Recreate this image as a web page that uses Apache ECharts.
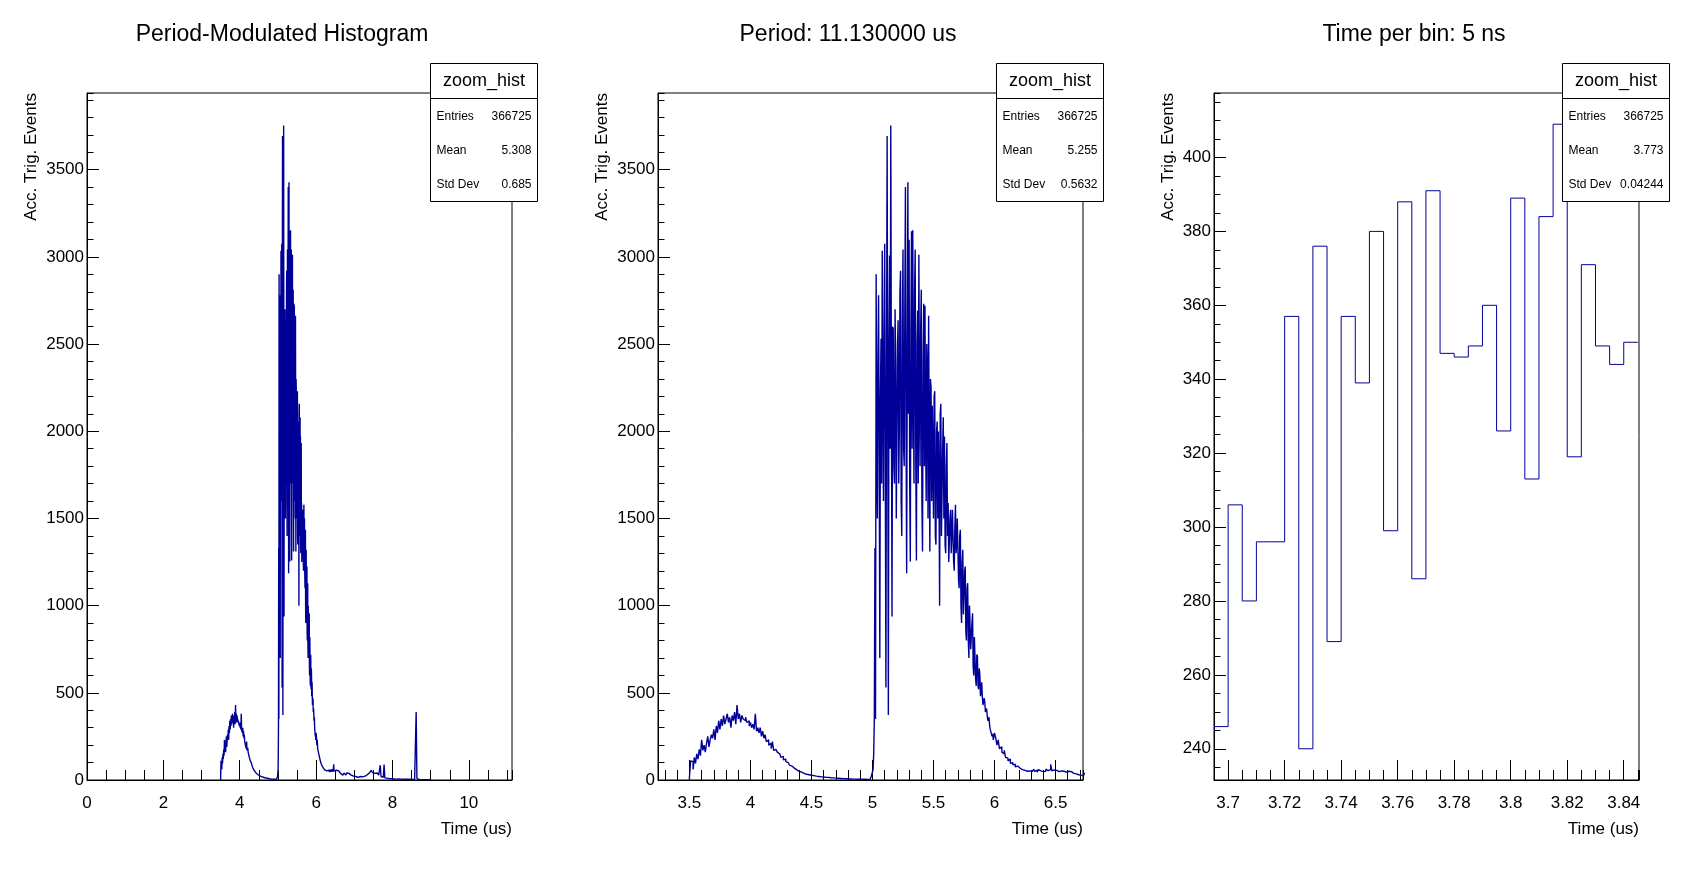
<!DOCTYPE html>
<html>
<head>
<meta charset="utf-8">
<title>Period-Modulated Histogram</title>
<script src="https://cdn.jsdelivr.net/npm/echarts@6/dist/echarts.min.js"></script>
<style>
html, body { margin: 0; padding: 0; background: #fff; }
#chart { width: 1698px; height: 876px; }
</style>
</head>
<body>
<div id="chart"></div>
<script>
// counts per 10 ns bin, 3.50 - 4.99 us
var riseCounts = [
	15, 110, 105, 60, 130, 95, 150, 120, 175, 140,
	230, 170, 200, 160, 210, 250, 190, 230, 260, 240,
	290, 230, 310, 270, 340, 290, 350, 310, 370, 320,
	350, 380, 330, 360, 300, 370, 340, 390, 320, 430,
	350, 380, 330, 370, 350, 340, 360, 330, 340, 310,
	330, 300, 320, 290, 380, 280, 300, 270, 300, 250,
	280, 240, 260, 220, 230, 200, 210, 180, 220, 170,
	175, 185, 160, 150, 140, 130, 135, 115, 120, 105,
	100, 95, 85, 80, 72, 68, 62, 58, 55, 50,
	48, 45, 42, 38, 36, 33, 31, 30, 28, 27,
	26, 25, 23, 22, 21, 20, 19, 18, 17, 17,
	16, 15, 14, 15, 13, 13, 12, 12, 11, 11,
	10, 10, 9, 9, 8, 8, 8, 7, 7, 7,
	6, 6, 6, 5, 5, 5, 5, 4, 4, 4,
	4, 4, 3, 4, 3, 3, 4, 3, 6, 20
];
// counts per 5 ns bin, 5.000 - 5.995 us
var peakCounts = [
	20, 60, 150, 340, 1330, 350, 2900, 2000, 1500, 2400,
	2780, 1900, 700, 2200, 2530, 1700, 3035, 2300, 1600, 2500,
	3075, 1800, 530, 2400, 3693, 2100, 373, 2500, 3008, 1900,
	3754, 2200, 937, 2600, 2587, 1800, 1700, 2700, 2381, 1500,
	1500, 2500, 2636, 1700, 2000, 2800, 2921, 1600, 1400, 2600,
	3042, 1900, 1800, 2700, 3401, 2000, 1186, 2500, 3428, 2100,
	3099, 1700, 1253, 2600, 3147, 1900, 3153, 2300, 1700, 2800,
	3042, 1800, 1259, 2500, 2692, 1700, 3013, 2200, 1800, 2600,
	2812, 1600, 1310, 2400, 2732, 1800, 2720, 2000, 1600, 2500,
	2357, 1500, 2662, 1900, 1310, 2300, 2248, 1600, 2147, 1800,
	1500, 2200, 2230, 1400, 1350, 2000, 2056, 1500, 1999, 1700,
	1000, 2100, 2158, 1400, 1400, 1900, 2080, 1500, 1970, 1350,
	1300, 1800, 1932, 1400, 1588, 1250, 1250, 1500, 1550, 1300,
	1400, 1550, 1550, 1250, 1200, 1450, 1578, 1300, 1350, 1500,
	1511, 1150, 1100, 1400, 1435, 1000, 900, 1250, 1320, 950,
	1050, 1200, 1224, 850, 800, 1100, 1129, 800, 700, 1000,
	1004, 750, 760, 900, 956, 650, 600, 820, 813, 580,
	540, 720, 708, 540, 520, 640, 600, 480, 516, 560,
	478, 430, 420, 470, 450, 390, 392, 410, 370, 340,
	344, 360, 310, 290, 287, 300, 250, 265, 230, 240
];
// counts per 10 ns bin, 6.00 - 6.79 us
var tailCounts = [
	270, 240, 200, 230, 180, 190, 160, 150, 170, 130,
	125, 110, 120, 95, 100, 87, 90, 75, 80, 70,
	67, 72, 60, 65, 55, 62, 50, 58, 52, 60,
	48, 55, 62, 50, 57, 45, 60, 52, 55, 48,
	58, 50, 62, 54, 47, 60, 90, 52, 58, 50,
	55, 60, 48, 56, 52, 62, 50, 57, 45, 53,
	50, 42, 48, 55, 38, 45, 35, 40, 30, 38,
	28, 35, 25, 40, 32, 36, 30, 34, 28, 30
];
// counts per 20 ns bin, 6.80 - 9.00 us (only seen in the full period view)
var lateCounts = [
	40, 35, 38, 30, 32, 28, 25, 27, 22, 20,
	18, 20, 16, 19, 15, 18, 16, 20, 17, 15,
	18, 16, 20, 22, 25, 28, 30, 35, 38, 42,
	45, 40, 55, 48, 42, 50, 38, 45, 35, 40,
	30, 28, 25, 22, 85, 20, 18, 16, 15, 88,
	12, 10, 11, 9, 10, 8, 9, 8, 7, 8,
	7, 6, 7, 6, 5, 6, 5, 6, 5, 5,
	5, 4, 5, 4, 5, 4, 4, 5, 4, 4,
	4, 3, 4, 3, 4, 3, 3, 4, 3, 3,
	10, 390, 8, 3, 3, 2, 3, 2, 3, 2,
	2, 3, 2, 2, 2, 3, 2, 2, 2, 2
];

// 5 ns bins from 3.695 us (right pad)
var zoomStart = 3.695, zoomBin = 0.005;
var zoomCounts = [
	246, 306, 280, 296, 296, 357, 240, 376, 269, 357,
	339, 380, 299, 388, 286, 391, 347, 346, 349, 360,
	326, 389, 313, 384, 409, 319, 371, 349, 344, 350
];

var titles = ['Period-Modulated Histogram', 'Period: 11.130000 us', 'Time per bin: 5 ns'];
var statNames = ['Entries', 'Mean', 'Std Dev'];
var stats1 = ['366725', '5.308', '0.685'];
var stats2 = ['366725', '5.255', '0.5632'];
var stats3 = ['366725', '3.773', '0.04244'];

var FONT = '"Liberation Sans", Arial, Helvetica, sans-serif';
var LINE = '#000099';

function r4(v) { return Math.round(v * 100000) / 100000; }

// histogram outline points, drawn with step:'end'
var fullPts = [[3.5, 0]];
function addBins(start, width, counts) {
	for (var i = 0; i < counts.length; i++) {
		fullPts.push([r4(start + i * width), counts[i]]);
	}
}
addBins(3.50, 0.01, riseCounts);
addBins(5.00, 0.005, peakCounts);
addBins(6.00, 0.01, tailCounts);
addBins(6.80, 0.02, lateCounts);
var lateEnd = r4(6.80 + lateCounts.length * 0.02);
fullPts.push([lateEnd, lateCounts[lateCounts.length - 1]]);
fullPts.push([lateEnd, 0]);

var zoomPts = [];
for (var k = 0; k < zoomCounts.length; k++) {
	zoomPts.push([r4(zoomStart + k * zoomBin), zoomCounts[k]]);
}
zoomPts.push([r4(zoomStart + zoomCounts.length * zoomBin), zoomCounts[zoomCounts.length - 1]]);

function fmt(v) { return String(v); }

function majorX(g, min, max, step, showMin) {
	return {
		type: 'value', gridIndex: g, position: 'bottom', min: min, max: max,
		minInterval: step, maxInterval: step,
		axisLine: { show: true, onZero: false, lineStyle: { color: '#000', width: 1 } },
		axisTick: { show: true, inside: true, length: 20, lineStyle: { color: '#000', width: 1 } },
		axisLabel: { margin: 15, color: '#000', fontSize: 17, fontFamily: FONT,
			showMinLabel: showMin, showMaxLabel: false, formatter: fmt },
		splitLine: { show: false }
	};
}
function minorX(g, min, max, step) {
	return {
		type: 'value', gridIndex: g, position: 'bottom', min: min, max: max,
		minInterval: step, maxInterval: step,
		axisLine: { show: false, onZero: false },
		axisTick: { show: true, inside: true, length: 10, lineStyle: { color: '#000', width: 1 } },
		axisLabel: { show: false },
		splitLine: { show: false }
	};
}
function majorY(g, min, max, step, showMin) {
	return {
		type: 'value', gridIndex: g, position: 'left', min: min, max: max,
		minInterval: step, maxInterval: step,
		axisLine: { show: true, onZero: false, lineStyle: { color: '#000', width: 1 } },
		axisTick: { show: true, inside: true, length: 12, lineStyle: { color: '#000', width: 1 } },
		axisLabel: { margin: 3, color: '#000', fontSize: 17, fontFamily: FONT,
			showMinLabel: showMin, showMaxLabel: false, formatter: fmt },
		splitLine: { show: false }
	};
}
function minorY(g, min, max, step) {
	return {
		type: 'value', gridIndex: g, position: 'left', min: min, max: max,
		minInterval: step, maxInterval: step,
		axisLine: { show: false, onZero: false },
		axisTick: { show: true, inside: true, length: 6.5, lineStyle: { color: '#000', width: 1 } },
		axisLabel: { show: false },
		splitLine: { show: false }
	};
}

var frames = [87, 658, 1214];       // left edge of each frame
var boxes = [430.5, 996.5, 1562.5]; // left edge of each stats box
var yTitleX = [31.5, 602, 1168];

function statBox(x, vals) {
	var els = [];
	els.push({ type: 'rect', z: 100, shape: { x: x, y: 63.5, width: 107, height: 138 },
		style: { fill: '#fff', stroke: '#000', lineWidth: 1 } });
	els.push({ type: 'line', z: 101, shape: { x1: x, y1: 98.5, x2: x + 107, y2: 98.5 },
		style: { stroke: '#000', lineWidth: 1 } });
	els.push({ type: 'text', z: 101, x: x + 53.5, y: 81.5,
		style: { text: 'zoom_hist', fontSize: 18, fontFamily: FONT, fill: '#000', align: 'center', verticalAlign: 'middle' } });
	var rows = [116.5, 150.5, 184.5];
	for (var i = 0; i < 3; i++) {
		els.push({ type: 'text', z: 101, x: x + 6, y: rows[i],
			style: { text: statNames[i], fontSize: 12, fontFamily: FONT, fill: '#000', align: 'left', verticalAlign: 'middle' } });
		els.push({ type: 'text', z: 101, x: x + 101, y: rows[i],
			style: { text: vals[i], fontSize: 12, fontFamily: FONT, fill: '#000', align: 'right', verticalAlign: 'middle' } });
	}
	return els;
}

var graphics = [];
for (var p = 0; p < 3; p++) {
	graphics.push({ type: 'text', z: 101, x: frames[p] + 425, y: 829,
		style: { text: 'Time (us)', fontSize: 17, fontFamily: FONT, fill: '#000', align: 'right', verticalAlign: 'middle' } });
	graphics.push({ type: 'text', z: 101, x: yTitleX[p], y: 93, rotation: Math.PI / 2,
		style: { text: 'Acc. Trig. Events', fontSize: 17, fontFamily: FONT, fill: '#000', align: 'right', verticalAlign: 'middle' } });
}
graphics = graphics.concat(statBox(boxes[0], stats1), statBox(boxes[1], stats2), statBox(boxes[2], stats3));

function titleOpt(text, cx) {
	return { text: text, left: cx, top: 23, textAlign: 'center', padding: 0,
		textStyle: { fontSize: 23, fontWeight: 'normal', color: '#000', fontFamily: FONT } };
}

var chart = echarts.init(document.getElementById('chart'));
var option = {
	backgroundColor: '#fff',
	animation: false,
	title: [titleOpt(titles[0], 282), titleOpt(titles[1], 848), titleOpt(titles[2], 1414)],
	grid: [
		{ left: frames[0], top: 93, width: 425, height: 687, show: true, borderColor: '#000', borderWidth: 1 },
		{ left: frames[1], top: 93, width: 425, height: 687, show: true, borderColor: '#000', borderWidth: 1 },
		{ left: frames[2], top: 93, width: 425, height: 687, show: true, borderColor: '#000', borderWidth: 1 }
	],
	xAxis: [
		majorX(0, 0, 11.13, 2, true), minorX(0, 0, 11.13, 0.5),
		majorX(1, 3.2425, 6.725, 0.5, false), minorX(1, 3.2425, 6.725, 0.1),
		majorX(2, 3.695, 3.8454, 0.02, false), minorX(2, 3.695, 3.8454, 0.005)
	],
	yAxis: [
		majorY(0, 0, 3940, 500, true), minorY(0, 0, 3940, 100),
		majorY(1, 0, 3940, 500, true), minorY(1, 0, 3940, 100),
		majorY(2, 231.55, 417.45, 20, false), minorY(2, 231.55, 417.45, 5)
	],
	series: [
		{ type: 'line', name: 'zoom_hist', xAxisIndex: 0, yAxisIndex: 0, data: fullPts, step: 'end',
			symbol: 'none', silent: true, lineStyle: { color: LINE, width: 1.4 } },
		{ type: 'line', name: 'zoom_hist', xAxisIndex: 2, yAxisIndex: 2, data: fullPts, step: 'end',
			symbol: 'none', silent: true, lineStyle: { color: LINE, width: 1.4 } },
		{ type: 'line', name: 'zoom_hist', xAxisIndex: 4, yAxisIndex: 4, data: zoomPts, step: 'end',
			symbol: 'none', silent: true, lineStyle: { color: LINE, width: 1 } }
	],
	graphic: { elements: graphics }
};
chart.setOption(option);
</script>
</body>
</html>
